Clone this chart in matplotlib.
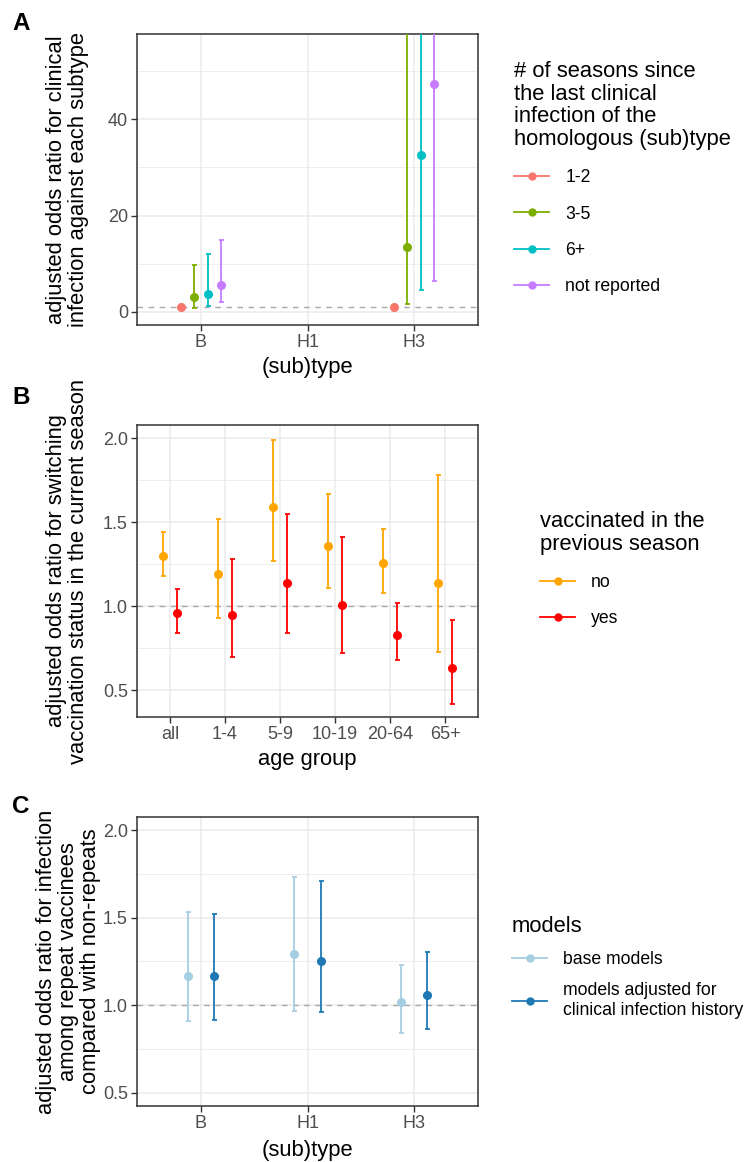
import numpy as np
import matplotlib
matplotlib.use('Agg')
from matplotlib import pyplot as plt
from matplotlib.lines import Line2D

plt.rcParams['font.family'] = ['Liberation Sans', 'DejaVu Sans']

# panel A: clinical infection history
subtypes_a = ['B', 'H1', 'H3']
seasons = ['1-2', '3-5', '6+', 'not reported']
seasons_title = '# of seasons since\nthe last clinical\ninfection of the\nhomologous (sub)type'
# rows = seasons groups, cols = subtypes (H1 has no estimate)
a_est = [[1.0, np.nan, 1.0],
         [3.0, np.nan, 13.4],
         [3.6, np.nan, 32.5],
         [5.5, np.nan, 47.4]]
a_lo = [[np.nan, np.nan, np.nan],
        [0.8, np.nan, 1.7],
        [1.1, np.nan, 4.5],
        [2.1, np.nan, 6.5]]
a_hi = [[np.nan, np.nan, np.nan],
        [9.8, np.nan, 95.0],
        [12.0, np.nan, 120.0],
        [15.0, np.nan, 150.0]]
a_colors = ['#F8766D', '#7CAE00', '#00BFC4', '#C77CFF']

# panel B: switching vaccination status
age_groups = ['all', '1-4', '5-9', '10-19', '20-64', '65+']
vacc_prev = ['no', 'yes']
b_est = [[1.30, 1.19, 1.59, 1.36, 1.26, 1.14],
         [0.96, 0.95, 1.14, 1.01, 0.83, 0.63]]
b_lo = [[1.18, 0.93, 1.27, 1.11, 1.08, 0.73],
        [0.84, 0.70, 0.84, 0.72, 0.68, 0.42]]
b_hi = [[1.44, 1.52, 1.99, 1.67, 1.46, 1.78],
        [1.10, 1.28, 1.55, 1.41, 1.02, 0.92]]
b_colors = ['#FFA500', '#FF0000']

# panel C: repeat vaccination
subtypes_c = ['B', 'H1', 'H3']
models = ['base models', 'models adjusted for\nclinical infection history']
c_est = [[1.17, 1.29, 1.02],
         [1.17, 1.255, 1.06]]
c_lo = [[0.91, 0.97, 0.843],
        [0.915, 0.96, 0.864]]
c_hi = [[1.53, 1.73, 1.23],
        [1.52, 1.71, 1.305]]
c_colors = ['#A6CEE3', '#1F78B4']

W, H = 746, 1162
fig = plt.figure(figsize=(W / 100, H / 100), dpi=100)


def px_axes(left, top, right, bottom):
    return fig.add_axes([left / W, 1 - bottom / H, (right - left) / W, (bottom - top) / H])


def style(ax, ncat, cats):
    for s in ax.spines.values():
        s.set_color('#333333')
        s.set_linewidth(1.1)
    ax.set_xlim(0.4, ncat + 0.6)
    ax.set_xticks(np.arange(1, ncat + 1))
    ax.set_xticklabels(cats)
    ax.grid(True, which='major', color='#EBEBEB', lw=1.1)
    ax.grid(True, which='minor', axis='y', color='#EBEBEB', lw=0.6)
    ax.set_axisbelow(True)
    ax.tick_params(which='major', length=4, width=1.0, color='#333333',
                   labelsize=13, labelcolor='#4D4D4D', pad=2.5)
    ax.tick_params(which='minor', length=0)
    ax.axhline(1.0, color='#A8A8A8', lw=1.0, ls=(0, (4, 4)), zorder=1.5)


def dodge_draw(ax, est, lo, hi, colors, width=0.5):
    n = len(est)
    for i in range(n):
        x = np.arange(1, len(est[i]) + 1) + (i - (n - 1) / 2) * width / n
        e = np.array(est[i], float)
        l = np.array(lo[i], float)
        h = np.array(hi[i], float)
        ok = ~np.isnan(l)
        if ok.any():
            ax.errorbar(x[ok], e[ok], yerr=[e[ok] - l[ok], h[ok] - e[ok]], fmt='none',
                        ecolor=colors[i], elinewidth=1.3, capsize=1.8, capthick=1.3, zorder=3)
        ax.plot(x, e, 'o', color=colors[i], ms=5.5, zorder=4)


def legend(x, y, title, labels, colors, spacing):
    handles = [Line2D([], [], color=c, marker='o', ms=5, lw=1.3) for c in colors]
    leg = fig.legend(handles, labels, title=title, loc='upper left',
                     bbox_to_anchor=(x / W, 1 - y / H), frameon=False, alignment='left',
                     borderpad=0, borderaxespad=0, handlelength=2.0, handletextpad=0.9,
                     labelspacing=spacing, fontsize=12.7, title_fontsize=15.8)
    leg.get_title().set_linespacing(1.1)
    return leg


# ---- A
axA = px_axes(137, 34, 478, 325)
style(axA, 3, subtypes_a)
dodge_draw(axA, a_est, a_lo, a_hi, a_colors)
axA.set_ylim(-2.75, 57.75)
axA.set_yticks([0, 20, 40])
axA.set_yticks([10, 30, 50], minor=True)
axA.set_xlabel('(sub)type', fontsize=15.8, labelpad=4)
axA.set_ylabel('adjusted odds ratio for clinical\ninfection against each subtype',
               fontsize=15.8, linespacing=1.05)
axA.yaxis.set_label_coords((89 - 137) / 341, 0.5)
legend(514, 61, seasons_title, seasons, a_colors, 1.1)

# ---- B
axB = px_axes(137, 425, 478, 717)
style(axB, 6, age_groups)
dodge_draw(axB, b_est, b_lo, b_hi, b_colors)
axB.set_ylim(0.341, 2.079)
axB.set_yticks([0.5, 1.0, 1.5, 2.0])
axB.set_yticklabels(['0.5', '1.0', '1.5', '2.0'])
axB.set_yticks([0.75, 1.25, 1.75], minor=True)
axB.set_xlabel('age group', fontsize=15.8, labelpad=4)
axB.set_ylabel('adjusted odds ratio for switching\nvaccination status in the current season',
               fontsize=15.8, linespacing=1.05)
axB.yaxis.set_label_coords((89 - 137) / 341, 0.5)
legend(540, 511, 'vaccinated in the\nprevious season', vacc_prev, b_colors, 1.1)

# ---- C
axC = px_axes(137, 817, 478, 1106)
style(axC, 3, subtypes_c)
dodge_draw(axC, c_est, c_lo, c_hi, c_colors)
axC.set_ylim(0.425, 2.075)
axC.set_yticks([0.5, 1.0, 1.5, 2.0])
axC.set_yticklabels(['0.5', '1.0', '1.5', '2.0'])
axC.set_yticks([0.75, 1.25, 1.75], minor=True)
axC.set_xlabel('(sub)type', fontsize=15.8, labelpad=6)
axC.set_ylabel('adjusted odds ratio for infection\namong repeat vaccinees\ncompared with non-repeats',
               fontsize=15.8, linespacing=1.05)
axC.yaxis.set_label_coords((101 - 137) / 341, 0.5)
legend(512, 916, 'models', models, c_colors, 0.8)

# panel letters
for lab, yy in [('A', 12), ('B', 386), ('C', 795)]:
    fig.text(12 / W, 1 - yy / H, lab, fontsize=17.5, fontweight='bold', va='top', ha='left')

fig.savefig('out.png', dpi=100)
